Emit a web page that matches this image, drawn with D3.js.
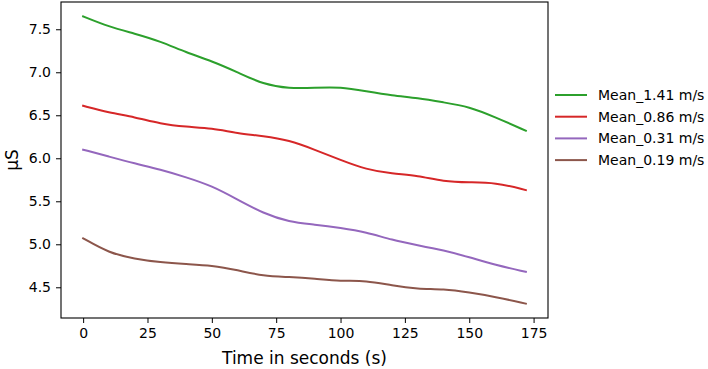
<!DOCTYPE html>
<html>
<head>
<meta charset="utf-8">
<script src="https://cdn.jsdelivr.net/npm/d3@7"></script>
<style>
  html, body { margin: 0; padding: 0; background: #fff; }
  svg { display: block; font-family: "DejaVu Sans", sans-serif; }
</style>
</head>
<body>
<div id="chart"></div>
<script>
// time samples (s)
const times = [0, 10, 20, 30, 40, 50, 60, 70, 80, 90, 100, 110, 120, 130, 140, 150, 160, 172]

// series values (µS)
const mean141 = [7.65, 7.53, 7.45, 7.36, 7.23, 7.13, 7.00, 6.86, 6.81, 6.82, 6.83, 6.78, 6.73, 6.70, 6.65, 6.60, 6.48, 6.32]
const mean086 = [6.61, 6.53, 6.48, 6.40, 6.365, 6.35, 6.29, 6.26, 6.21, 6.10, 5.98, 5.87, 5.82, 5.80, 5.73, 5.72, 5.72, 5.63]
const mean031 = [6.10, 6.02, 5.94, 5.87, 5.78, 5.68, 5.52, 5.36, 5.26, 5.23, 5.19, 5.14, 5.05, 4.99, 4.93, 4.85, 4.76, 4.68]
const mean019 = [5.07, 4.90, 4.83, 4.79, 4.77, 4.755, 4.70, 4.63, 4.62, 4.60, 4.57, 4.58, 4.52, 4.48, 4.48, 4.44, 4.39, 4.31]

const seriesNames = ["Mean_1.41 m/s", "Mean_0.86 m/s", "Mean_0.31 m/s", "Mean_0.19 m/s"]
const seriesColors = ["#2ca02c", "#d62728", "#9467bd", "#8c564b"]

const xTicks = [0, 25, 50, 75, 100, 125, 150, 175]
const yTicks = [4.5, 5.0, 5.5, 6.0, 6.5, 7.0, 7.5]

const width = 708, height = 369
const margin = { top: 2, right: 160, bottom: 51, left: 61 }

const svg = d3.select("#chart").append("svg")
    .attr("width", width)
    .attr("height", height)

const x = d3.scaleLinear()
    .domain([-8.6, 180.6])
    .range([margin.left, width - margin.right])

const y = d3.scaleLinear()
    .domain([4.143, 7.817])
    .range([height - margin.bottom, margin.top])

const allSeries = [mean141, mean086, mean031, mean019].map((vals, i) => ({
    name: seriesNames[i],
    color: seriesColors[i],
    points: vals.map((v, j) => ({ t: times[j], v }))
}))

const line = d3.line()
    .curve(d3.curveBasis)
    .x(d => x(d.t))
    .y(d => y(d.v))

svg.append("g")
    .selectAll("path")
    .data(allSeries)
    .join("path")
    .attr("fill", "none")
    .attr("stroke", d => d.color)
    .attr("stroke-width", 2)
    .attr("stroke-linejoin", "round")
    .attr("stroke-linecap", "square")
    .attr("d", d => line(d.points))

// ejes
const xAxis = svg.append("g")
    .attr("transform", `translate(0,${height - margin.bottom})`)
    .call(d3.axisBottom(x).tickValues(xTicks).tickSize(5).tickPadding(5).tickFormat(d3.format("d")))
xAxis.select(".domain").remove()

const yAxis = svg.append("g")
    .attr("transform", `translate(${margin.left},0)`)
    .call(d3.axisLeft(y).tickValues(yTicks).tickSize(5).tickPadding(5).tickFormat(d3.format(".1f")))
yAxis.select(".domain").remove()

svg.selectAll(".tick text")
    .attr("font-size", 14)
    .attr("font-family", "DejaVu Sans, sans-serif")
    .attr("fill", "#000")
svg.selectAll(".tick line").attr("stroke", "#000").attr("stroke-width", 1)

// marco
svg.append("rect")
    .attr("x", margin.left)
    .attr("y", margin.top)
    .attr("width", width - margin.right - margin.left)
    .attr("height", height - margin.bottom - margin.top)
    .attr("fill", "none")
    .attr("stroke", "#000")
    .attr("stroke-width", 1.1)

// etiquetas
svg.append("text")
    .attr("x", (margin.left + width - margin.right) / 2)
    .attr("y", 364)
    .attr("text-anchor", "middle")
    .attr("font-size", 17)
    .text("Time in seconds (s)")

svg.append("text")
    .attr("transform", `translate(18,${(margin.top + height - margin.bottom) / 2}) rotate(-90)`)
    .attr("text-anchor", "middle")
    .attr("font-size", 17)
    .text("µS")

// leyenda
const legend = svg.append("g")
    .selectAll("g")
    .data(allSeries)
    .join("g")
    .attr("transform", (d, i) => `translate(555,${95 + i * 21.7})`)

legend.append("line")
    .attr("x1", 0).attr("x2", 32)
    .attr("stroke", d => d.color)
    .attr("stroke-width", 2)

legend.append("text")
    .attr("x", 43)
    .attr("dy", "0.35em")
    .attr("font-size", 14)
    .text(d => d.name)
</script>
</body>
</html>
